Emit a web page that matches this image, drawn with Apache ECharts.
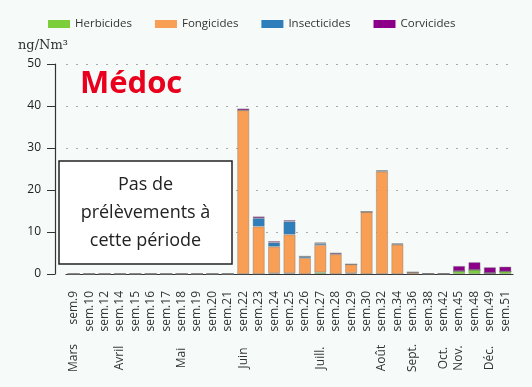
<!DOCTYPE html>
<html><head><meta charset="utf-8">
<script src="https://cdn.jsdelivr.net/npm/echarts@6/dist/echarts.min.js"></script>
<style>html,body{margin:0;padding:0;background:#f6fbf9}#c{width:532px;height:387px}</style>
</head><body><div id="c"></div>
<script>
const weeks = ['sem.9','sem.10','sem.12','sem.14','sem.15','sem.16','sem.17','sem.18','sem.19','sem.20','sem.21','sem.22','sem.23','sem.24','sem.25','sem.26','sem.27','sem.28','sem.29','sem.30','sem.32','sem.34','sem.36','sem.38','sem.42','sem.45','sem.48','sem.49','sem.51'];
const months = ['Mars','','','Avril','','','','Mai','','','','Juin','','','','','Juill.','','','','Août','','Sept.','','Oct.','Nov.','','Déc.',''];
const herbicides   = [0,0,0,0,0,0,0,0,0,0,0, 0,   0,   0.2, 0.2, 0,   0.4, 0,   0.2, 0,    0,    0,   0,   0,   0,   0.7, 1.0, 0.25, 0.6];
const fongicides   = [0,0,0,0,0,0,0,0,0,0,0, 39.0,11.3,6.3, 9.2, 3.8, 6.5, 4.7, 2.1, 14.8, 24.4, 7.0, 0.4, 0,   0,   0,   0,   0,    0];
const insecticides = [0,0,0,0,0,0,0,0,0,0,0, 0,   2.0, 1.0, 3.1, 0.4, 0.4, 0.1, 0,   0,    0.2,  0.1, 0,   0,   0,   0,   0,   0,    0];
const corvicides   = [0,0,0,0,0,0,0,0,0,0,0, 0.4, 0.4, 0.3, 0.3, 0,   0.2, 0.3, 0,   0,    0,    0.2, 0,   0.2, 0.2, 1.2, 1.8, 1.35, 1.15];
const yTicks = [0,10,20,30,40,50];

const font = 'Open Sans';
const chart = echarts.init(document.getElementById('c'));
const border = {borderColor:'rgba(110,110,110,0.45)', borderWidth:0.8};
function s(name, data, color){
  return {name, type:'bar', stack:'t', data, barWidth:12, xAxisIndex:0,
    itemStyle:Object.assign({color}, border), emphasis:{disabled:true}};
}
chart.setOption({
  animation:false,
  backgroundColor:'#f6fbf9',
  textStyle:{fontFamily:font},
  title:{text:'Médoc', left:75, top:64, textStyle:{color:'#e8001c', fontSize:31, fontWeight:'bold', fontFamily:font}},
  legend:{left:43, top:13, itemWidth:22, itemHeight:8, itemGap:23,
    itemStyle:{borderWidth:0},
    textStyle:{fontSize:11.5, color:'#333', fontFamily:font},
    data:['Herbicides','Fongicides','Insecticides','Corvicides'], icon:'rect'},
  grid:{left:66, right:19, top:64, bottom:113},
  xAxis:[{
    type:'category', data:weeks, offset:9,
    axisLine:{lineStyle:{color:'#333', width:1.2}},
    axisTick:{alignWithLabel:true, length:7, lineStyle:{color:'#333'}},
    axisLabel:{rotate:90, interval:0, margin:8, fontSize:12, color:'#333', fontFamily:font}
  },{
    type:'category', data:months, position:'bottom', offset:9,
    axisLine:{show:false}, axisTick:{show:false},
    axisLabel:{rotate:90, interval:0, margin:75, align:'center', verticalAlign:'middle', fontSize:12, color:'#333', fontFamily:font}
  }],
  yAxis:{type:'value', min:yTicks[0], max:yTicks[yTicks.length-1], interval:10, offset:11,
    axisLine:{show:true, lineStyle:{color:'#333', width:1.2}},
    axisTick:{show:true, length:8, lineStyle:{color:'#333'}},
    axisLabel:{margin:14, fontSize:12, color:'#222', fontFamily:font},
    splitLine:{show:true, lineStyle:{color:'#aaa', type:[2,8], width:1}}
  },
  graphic:[
    {type:'text', left:18, top:39, style:{text:'ng/Nm³', font:'13px "DejaVu Serif"', fill:'#333'}},
    {type:'rect', shape:{x:59, y:161, width:173, height:103}, style:{fill:'#ffffff', stroke:'#222', lineWidth:1.5}, z:10},
    {type:'text', x:145.5, y:213, z:11, style:{text:'Pas de\nprélèvements à\ncette période', font:'18px "Open Sans"', fill:'#222', align:'center', verticalAlign:'middle', lineHeight:28}}
  ],
  series:[
    s('Herbicides', herbicides, '#7ccf3b'),
    s('Fongicides', fongicides, '#f99e55'),
    s('Insecticides', insecticides, '#2f7ebc'),
    s('Corvicides', corvicides, '#8c0089')
  ]
});
</script></body></html>
